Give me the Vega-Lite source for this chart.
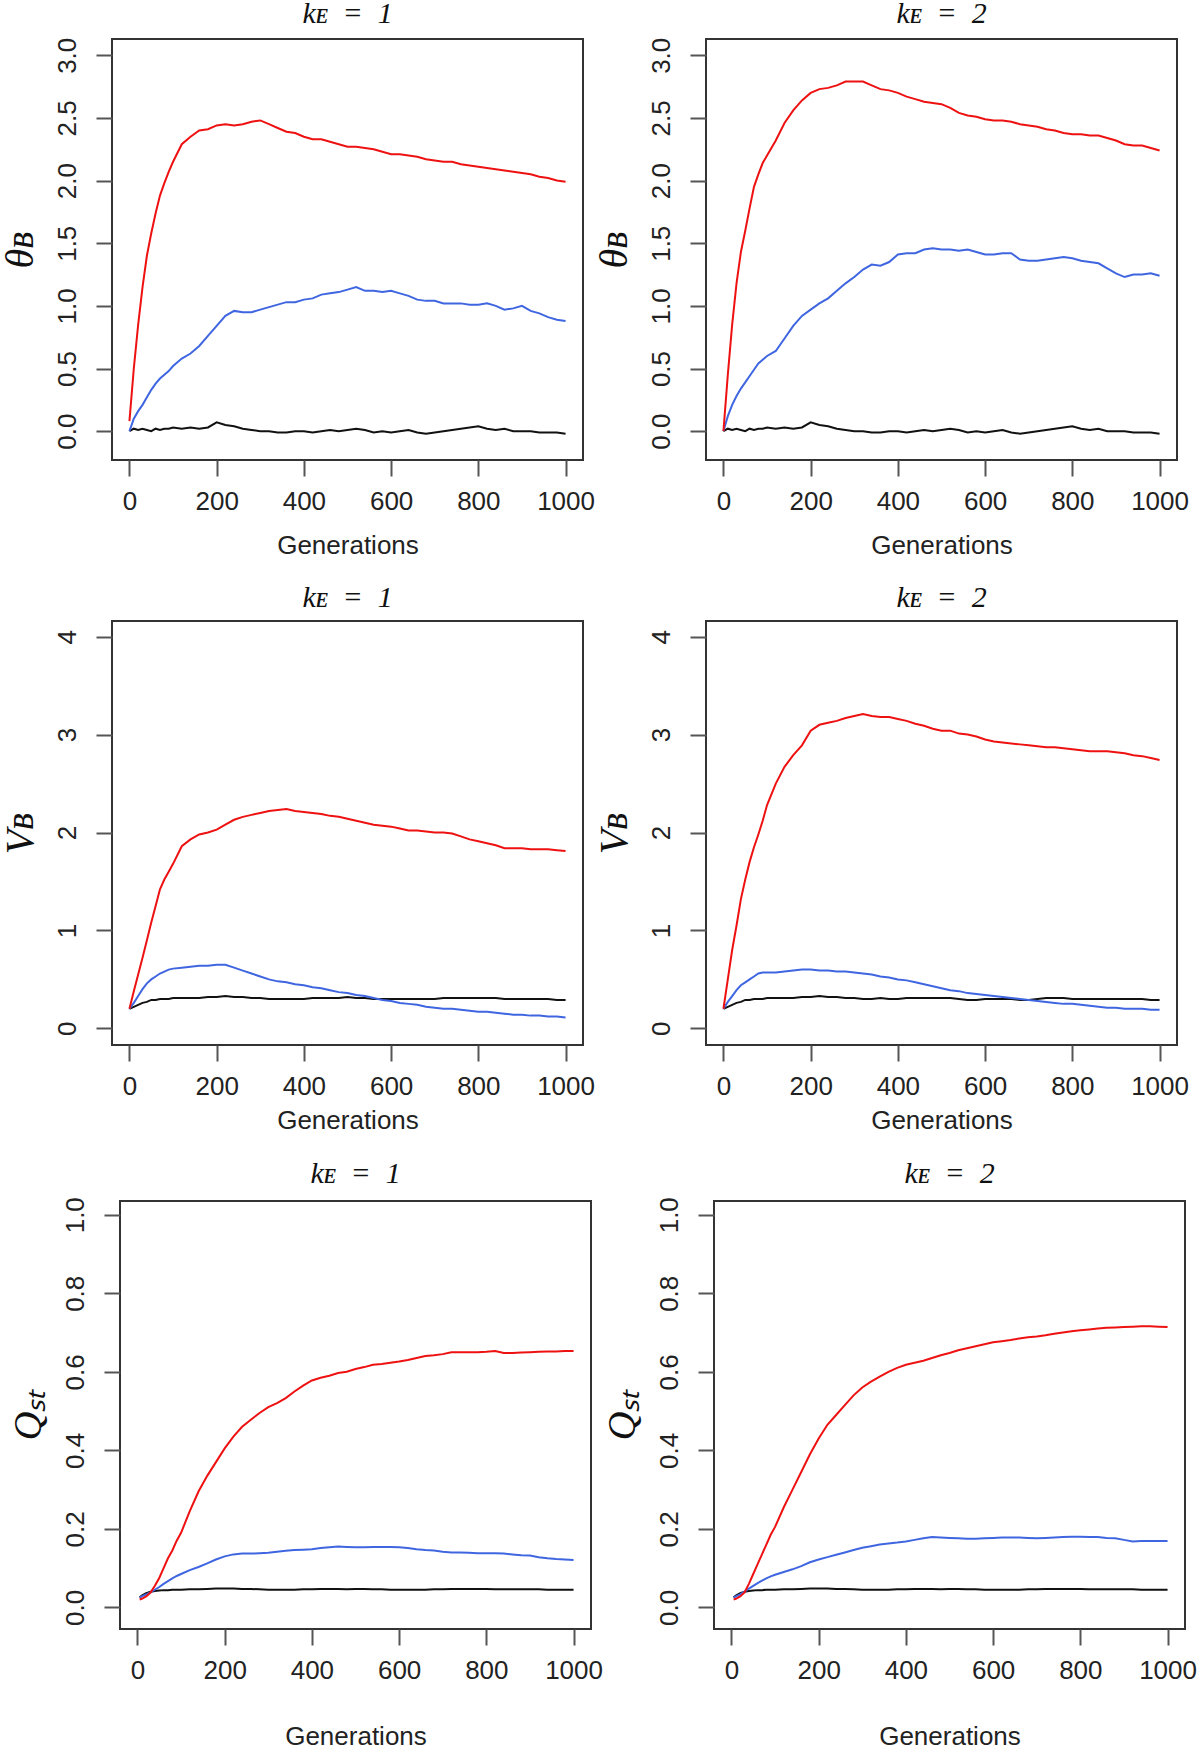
{
  "$schema": "https://vega.github.io/schema/vega-lite/v6.json",
  "autosize": {"type": "none"},
  "padding": {"left": -12, "top": 39, "right": 1212, "bottom": 1713},
  "background": "white",
  "config": {
    "view": {"stroke": "#333333", "strokeWidth": 2},
    "axis": {"grid": false, "domain": false, "tickSize": 16, "tickWidth": 2, "tickColor": "#555555", "labelFont": "Liberation Sans", "labelFontSize": 26, "labelColor": "#222222", "titleColor": "#111111", "titleFontWeight": "normal"},
    "axisX": {"labelPadding": 12, "labelFlush": false, "labelOverlap": false, "titleFont": "Liberation Sans", "titleFontSize": 26, "titleColor": "#222222"},
    "axisY": {"labelAngle": 270, "labelAlign": "center", "labelBaseline": "alphabetic", "labelPadding": 21, "labelFlush": false, "labelOverlap": false, "titleFont": "Liberation Serif", "titleFontStyle": "italic", "titleFontSize": 40, "titleAngle": 270, "titleBaseline": "alphabetic", "titlePadding": 22},
    "title": {"font": "Liberation Serif", "fontStyle": "italic", "fontSize": 30, "fontWeight": "normal", "color": "#111111", "frame": "group", "baseline": "alphabetic", "offset": 8, "anchor": "middle"},
    "line": {"strokeWidth": 2}
  },
  "datasets": {
    "t1": [
      {"g":0,"r":0.08,"b":0.0,"k":0.0},{"g":10,"r":0.50,"b":0.10,"k":0.02},{"g":20,"r":0.85,"b":0.16,"k":0.01},{"g":30,"r":1.15,"b":0.21,"k":0.02},{"g":40,"r":1.40,"b":0.27,"k":0.01},{"g":50,"r":1.58,"b":0.33,"k":0.0},{"g":60,"r":1.74,"b":0.38,"k":0.02},{"g":70,"r":1.88,"b":0.42,"k":0.01},{"g":80,"r":1.98,"b":0.45,"k":0.02},{"g":90,"r":2.07,"b":0.48,"k":0.02},{"g":100,"r":2.15,"b":0.52,"k":0.03},
      {"g":120,"r":2.29,"b":0.58,"k":0.02},{"g":140,"r":2.35,"b":0.62,"k":0.03},{"g":160,"r":2.40,"b":0.68,"k":0.02},{"g":180,"r":2.41,"b":0.76,"k":0.03},{"g":200,"r":2.44,"b":0.84,"k":0.07},{"g":220,"r":2.45,"b":0.92,"k":0.05},{"g":240,"r":2.44,"b":0.96,"k":0.04},{"g":260,"r":2.45,"b":0.95,"k":0.02},{"g":280,"r":2.47,"b":0.95,"k":0.01},{"g":300,"r":2.48,"b":0.97,"k":0.0},
      {"g":320,"r":2.45,"b":0.99,"k":0.0},{"g":340,"r":2.42,"b":1.01,"k":-0.01},{"g":360,"r":2.39,"b":1.03,"k":-0.01},{"g":380,"r":2.38,"b":1.03,"k":0.0},{"g":400,"r":2.35,"b":1.05,"k":0.0},{"g":420,"r":2.33,"b":1.06,"k":-0.01},{"g":440,"r":2.33,"b":1.09,"k":0.0},{"g":460,"r":2.31,"b":1.10,"k":0.01},{"g":480,"r":2.29,"b":1.11,"k":0.0},{"g":500,"r":2.27,"b":1.13,"k":0.01},
      {"g":520,"r":2.27,"b":1.15,"k":0.02},{"g":540,"r":2.26,"b":1.12,"k":0.01},{"g":560,"r":2.25,"b":1.12,"k":-0.01},{"g":580,"r":2.23,"b":1.11,"k":0.0},{"g":600,"r":2.21,"b":1.12,"k":-0.01},{"g":620,"r":2.21,"b":1.10,"k":0.0},{"g":640,"r":2.20,"b":1.08,"k":0.01},{"g":660,"r":2.19,"b":1.05,"k":-0.01},{"g":680,"r":2.17,"b":1.04,"k":-0.02},{"g":700,"r":2.16,"b":1.04,"k":-0.01},
      {"g":720,"r":2.15,"b":1.02,"k":0.0},{"g":740,"r":2.15,"b":1.02,"k":0.01},{"g":760,"r":2.13,"b":1.02,"k":0.02},{"g":780,"r":2.12,"b":1.01,"k":0.03},{"g":800,"r":2.11,"b":1.01,"k":0.04},{"g":820,"r":2.10,"b":1.02,"k":0.02},{"g":840,"r":2.09,"b":1.00,"k":0.01},{"g":860,"r":2.08,"b":0.97,"k":0.02},{"g":880,"r":2.07,"b":0.98,"k":0.0},{"g":900,"r":2.06,"b":1.00,"k":0.0},
      {"g":920,"r":2.05,"b":0.96,"k":0.0},{"g":940,"r":2.03,"b":0.94,"k":-0.01},{"g":960,"r":2.02,"b":0.91,"k":-0.01},{"g":980,"r":2.00,"b":0.89,"k":-0.01},{"g":1000,"r":1.99,"b":0.88,"k":-0.02}
    ],
    "t2": [
      {"g":0,"r":0.0,"b":0.0,"k":0.0},{"g":10,"r":0.45,"b":0.12,"k":0.02},{"g":20,"r":0.85,"b":0.21,"k":0.01},{"g":30,"r":1.18,"b":0.28,"k":0.02},{"g":40,"r":1.43,"b":0.34,"k":0.01},{"g":50,"r":1.60,"b":0.39,"k":0.0},{"g":60,"r":1.78,"b":0.44,"k":0.02},{"g":70,"r":1.95,"b":0.49,"k":0.01},{"g":80,"r":2.05,"b":0.54,"k":0.02},{"g":90,"r":2.14,"b":0.57,"k":0.02},{"g":100,"r":2.20,"b":0.60,"k":0.03},
      {"g":120,"r":2.32,"b":0.64,"k":0.02},{"g":140,"r":2.46,"b":0.74,"k":0.03},{"g":160,"r":2.56,"b":0.84,"k":0.02},{"g":180,"r":2.64,"b":0.92,"k":0.03},{"g":200,"r":2.70,"b":0.97,"k":0.07},{"g":220,"r":2.73,"b":1.02,"k":0.05},{"g":240,"r":2.74,"b":1.06,"k":0.04},{"g":260,"r":2.76,"b":1.12,"k":0.02},{"g":280,"r":2.79,"b":1.18,"k":0.01},{"g":300,"r":2.79,"b":1.23,"k":0.0},
      {"g":320,"r":2.79,"b":1.29,"k":0.0},{"g":340,"r":2.76,"b":1.33,"k":-0.01},{"g":360,"r":2.73,"b":1.32,"k":-0.01},{"g":380,"r":2.72,"b":1.35,"k":0.0},{"g":400,"r":2.70,"b":1.41,"k":0.0},{"g":420,"r":2.67,"b":1.42,"k":-0.01},{"g":440,"r":2.65,"b":1.42,"k":0.0},{"g":460,"r":2.63,"b":1.45,"k":0.01},{"g":480,"r":2.62,"b":1.46,"k":0.0},{"g":500,"r":2.61,"b":1.45,"k":0.01},
      {"g":520,"r":2.58,"b":1.45,"k":0.02},{"g":540,"r":2.54,"b":1.44,"k":0.01},{"g":560,"r":2.52,"b":1.45,"k":-0.01},{"g":580,"r":2.51,"b":1.43,"k":0.0},{"g":600,"r":2.49,"b":1.41,"k":-0.01},{"g":620,"r":2.48,"b":1.41,"k":0.0},{"g":640,"r":2.48,"b":1.42,"k":0.01},{"g":660,"r":2.47,"b":1.42,"k":-0.01},{"g":680,"r":2.45,"b":1.37,"k":-0.02},{"g":700,"r":2.44,"b":1.36,"k":-0.01},
      {"g":720,"r":2.43,"b":1.36,"k":0.0},{"g":740,"r":2.41,"b":1.37,"k":0.01},{"g":760,"r":2.40,"b":1.38,"k":0.02},{"g":780,"r":2.38,"b":1.39,"k":0.03},{"g":800,"r":2.37,"b":1.38,"k":0.04},{"g":820,"r":2.37,"b":1.36,"k":0.02},{"g":840,"r":2.36,"b":1.35,"k":0.01},{"g":860,"r":2.36,"b":1.34,"k":0.02},{"g":880,"r":2.34,"b":1.30,"k":0.0},{"g":900,"r":2.32,"b":1.26,"k":0.0},
      {"g":920,"r":2.29,"b":1.23,"k":0.0},{"g":940,"r":2.28,"b":1.25,"k":-0.01},{"g":960,"r":2.28,"b":1.25,"k":-0.01},{"g":980,"r":2.26,"b":1.26,"k":-0.01},{"g":1000,"r":2.24,"b":1.24,"k":-0.02}
    ],
    "v1": [
      {"g":0,"r":0.20,"b":0.20,"k":0.20},{"g":10,"r":0.38,"b":0.26,"k":0.22},{"g":20,"r":0.55,"b":0.33,"k":0.24},{"g":30,"r":0.72,"b":0.40,"k":0.26},{"g":40,"r":0.90,"b":0.46,"k":0.27},{"g":50,"r":1.08,"b":0.50,"k":0.29},{"g":60,"r":1.25,"b":0.53,"k":0.29},{"g":70,"r":1.42,"b":0.56,"k":0.30},{"g":80,"r":1.52,"b":0.58,"k":0.30},{"g":90,"r":1.60,"b":0.60,"k":0.30},{"g":100,"r":1.68,"b":0.61,"k":0.31},
      {"g":120,"r":1.86,"b":0.62,"k":0.31},{"g":140,"r":1.93,"b":0.63,"k":0.31},{"g":160,"r":1.98,"b":0.64,"k":0.31},{"g":180,"r":2.00,"b":0.64,"k":0.32},{"g":200,"r":2.03,"b":0.65,"k":0.32},{"g":220,"r":2.08,"b":0.65,"k":0.33},{"g":240,"r":2.13,"b":0.62,"k":0.32},{"g":260,"r":2.16,"b":0.59,"k":0.32},{"g":280,"r":2.18,"b":0.56,"k":0.31},{"g":300,"r":2.20,"b":0.53,"k":0.31},
      {"g":320,"r":2.22,"b":0.50,"k":0.30},{"g":340,"r":2.23,"b":0.48,"k":0.30},{"g":360,"r":2.24,"b":0.47,"k":0.30},{"g":380,"r":2.22,"b":0.45,"k":0.30},{"g":400,"r":2.21,"b":0.44,"k":0.30},{"g":420,"r":2.20,"b":0.42,"k":0.31},{"g":440,"r":2.19,"b":0.41,"k":0.31},{"g":460,"r":2.17,"b":0.39,"k":0.31},{"g":480,"r":2.16,"b":0.37,"k":0.31},{"g":500,"r":2.14,"b":0.36,"k":0.32},
      {"g":520,"r":2.12,"b":0.34,"k":0.31},{"g":540,"r":2.10,"b":0.33,"k":0.31},{"g":560,"r":2.08,"b":0.31,"k":0.30},{"g":580,"r":2.07,"b":0.29,"k":0.30},{"g":600,"r":2.06,"b":0.28,"k":0.30},{"g":620,"r":2.04,"b":0.26,"k":0.30},{"g":640,"r":2.02,"b":0.25,"k":0.30},{"g":660,"r":2.02,"b":0.24,"k":0.30},{"g":680,"r":2.01,"b":0.22,"k":0.30},{"g":700,"r":2.00,"b":0.21,"k":0.30},
      {"g":720,"r":2.00,"b":0.20,"k":0.31},{"g":740,"r":1.99,"b":0.20,"k":0.31},{"g":760,"r":1.96,"b":0.19,"k":0.31},{"g":780,"r":1.93,"b":0.18,"k":0.31},{"g":800,"r":1.91,"b":0.17,"k":0.31},{"g":820,"r":1.89,"b":0.17,"k":0.31},{"g":840,"r":1.87,"b":0.16,"k":0.31},{"g":860,"r":1.84,"b":0.15,"k":0.30},{"g":880,"r":1.84,"b":0.14,"k":0.30},{"g":900,"r":1.84,"b":0.14,"k":0.30},
      {"g":920,"r":1.83,"b":0.13,"k":0.30},{"g":940,"r":1.83,"b":0.13,"k":0.30},{"g":960,"r":1.83,"b":0.12,"k":0.30},{"g":980,"r":1.82,"b":0.12,"k":0.29},{"g":1000,"r":1.81,"b":0.11,"k":0.29}
    ],
    "v2": [
      {"g":0,"r":0.20,"b":0.20,"k":0.20},{"g":10,"r":0.50,"b":0.27,"k":0.22},{"g":20,"r":0.80,"b":0.33,"k":0.24},{"g":30,"r":1.05,"b":0.39,"k":0.26},{"g":40,"r":1.32,"b":0.44,"k":0.27},{"g":50,"r":1.52,"b":0.47,"k":0.29},{"g":60,"r":1.70,"b":0.50,"k":0.29},{"g":70,"r":1.85,"b":0.53,"k":0.30},{"g":80,"r":1.98,"b":0.56,"k":0.30},{"g":90,"r":2.12,"b":0.57,"k":0.30},{"g":100,"r":2.28,"b":0.57,"k":0.31},
      {"g":120,"r":2.50,"b":0.57,"k":0.31},{"g":140,"r":2.67,"b":0.58,"k":0.31},{"g":160,"r":2.79,"b":0.59,"k":0.31},{"g":180,"r":2.89,"b":0.60,"k":0.32},{"g":200,"r":3.04,"b":0.60,"k":0.32},{"g":220,"r":3.10,"b":0.59,"k":0.33},{"g":240,"r":3.12,"b":0.59,"k":0.32},{"g":260,"r":3.14,"b":0.58,"k":0.32},{"g":280,"r":3.17,"b":0.58,"k":0.31},{"g":300,"r":3.19,"b":0.57,"k":0.31},
      {"g":320,"r":3.21,"b":0.56,"k":0.30},{"g":340,"r":3.19,"b":0.55,"k":0.30},{"g":360,"r":3.18,"b":0.53,"k":0.31},{"g":380,"r":3.18,"b":0.52,"k":0.30},{"g":400,"r":3.16,"b":0.50,"k":0.30},{"g":420,"r":3.14,"b":0.49,"k":0.31},{"g":440,"r":3.11,"b":0.47,"k":0.31},{"g":460,"r":3.09,"b":0.45,"k":0.31},{"g":480,"r":3.06,"b":0.43,"k":0.31},{"g":500,"r":3.04,"b":0.41,"k":0.31},
      {"g":520,"r":3.04,"b":0.39,"k":0.31},{"g":540,"r":3.01,"b":0.38,"k":0.30},{"g":560,"r":3.00,"b":0.36,"k":0.29},{"g":580,"r":2.98,"b":0.35,"k":0.29},{"g":600,"r":2.95,"b":0.34,"k":0.30},{"g":620,"r":2.93,"b":0.33,"k":0.30},{"g":640,"r":2.92,"b":0.32,"k":0.30},{"g":660,"r":2.91,"b":0.31,"k":0.30},{"g":680,"r":2.90,"b":0.30,"k":0.29},{"g":700,"r":2.89,"b":0.29,"k":0.29},
      {"g":720,"r":2.88,"b":0.28,"k":0.30},{"g":740,"r":2.87,"b":0.27,"k":0.31},{"g":760,"r":2.87,"b":0.26,"k":0.31},{"g":780,"r":2.86,"b":0.25,"k":0.31},{"g":800,"r":2.85,"b":0.25,"k":0.30},{"g":820,"r":2.84,"b":0.24,"k":0.30},{"g":840,"r":2.83,"b":0.23,"k":0.30},{"g":860,"r":2.83,"b":0.22,"k":0.30},{"g":880,"r":2.83,"b":0.21,"k":0.30},{"g":900,"r":2.82,"b":0.21,"k":0.30},
      {"g":920,"r":2.81,"b":0.20,"k":0.30},{"g":940,"r":2.79,"b":0.20,"k":0.30},{"g":960,"r":2.78,"b":0.20,"k":0.30},{"g":980,"r":2.76,"b":0.19,"k":0.29},{"g":1000,"r":2.74,"b":0.19,"k":0.29}
    ],
    "q1": [
      {"g":5,"r":0.020,"b":0.025,"k":0.025},{"g":10,"r":0.022,"b":0.028,"k":0.030},{"g":20,"r":0.028,"b":0.033,"k":0.036},{"g":30,"r":0.038,"b":0.038,"k":0.040},{"g":40,"r":0.055,"b":0.045,"k":0.042},{"g":50,"r":0.075,"b":0.052,"k":0.043},{"g":60,"r":0.100,"b":0.060,"k":0.044},{"g":70,"r":0.125,"b":0.067,"k":0.044},{"g":80,"r":0.145,"b":0.074,"k":0.045},{"g":90,"r":0.170,"b":0.080,"k":0.045},{"g":100,"r":0.190,"b":0.085,"k":0.045},
      {"g":120,"r":0.245,"b":0.095,"k":0.046},{"g":140,"r":0.295,"b":0.103,"k":0.046},{"g":160,"r":0.335,"b":0.112,"k":0.047},{"g":180,"r":0.370,"b":0.122,"k":0.048},{"g":200,"r":0.405,"b":0.130,"k":0.048},{"g":220,"r":0.435,"b":0.135,"k":0.048},{"g":240,"r":0.460,"b":0.137,"k":0.047},{"g":260,"r":0.478,"b":0.137,"k":0.047},{"g":280,"r":0.495,"b":0.138,"k":0.046},{"g":300,"r":0.510,"b":0.139,"k":0.045},
      {"g":320,"r":0.520,"b":0.142,"k":0.045},{"g":340,"r":0.533,"b":0.144,"k":0.045},{"g":360,"r":0.550,"b":0.146,"k":0.045},{"g":380,"r":0.565,"b":0.147,"k":0.046},{"g":400,"r":0.578,"b":0.148,"k":0.046},{"g":420,"r":0.585,"b":0.151,"k":0.047},{"g":440,"r":0.590,"b":0.153,"k":0.047},{"g":460,"r":0.597,"b":0.155,"k":0.047},{"g":480,"r":0.600,"b":0.154,"k":0.046},{"g":500,"r":0.607,"b":0.153,"k":0.047},
      {"g":520,"r":0.612,"b":0.153,"k":0.047},{"g":540,"r":0.618,"b":0.154,"k":0.046},{"g":560,"r":0.620,"b":0.154,"k":0.046},{"g":580,"r":0.623,"b":0.154,"k":0.045},{"g":600,"r":0.626,"b":0.153,"k":0.045},{"g":620,"r":0.630,"b":0.151,"k":0.045},{"g":640,"r":0.635,"b":0.148,"k":0.045},{"g":660,"r":0.640,"b":0.146,"k":0.045},{"g":680,"r":0.642,"b":0.145,"k":0.046},{"g":700,"r":0.645,"b":0.142,"k":0.046},
      {"g":720,"r":0.650,"b":0.140,"k":0.047},{"g":740,"r":0.650,"b":0.140,"k":0.047},{"g":760,"r":0.650,"b":0.139,"k":0.047},{"g":780,"r":0.650,"b":0.138,"k":0.047},{"g":800,"r":0.651,"b":0.138,"k":0.047},{"g":820,"r":0.653,"b":0.138,"k":0.046},{"g":840,"r":0.648,"b":0.137,"k":0.046},{"g":860,"r":0.648,"b":0.135,"k":0.046},{"g":880,"r":0.649,"b":0.133,"k":0.046},{"g":900,"r":0.650,"b":0.132,"k":0.046},
      {"g":920,"r":0.651,"b":0.128,"k":0.046},{"g":940,"r":0.652,"b":0.125,"k":0.045},{"g":960,"r":0.652,"b":0.123,"k":0.045},{"g":980,"r":0.653,"b":0.122,"k":0.045},{"g":1000,"r":0.653,"b":0.121,"k":0.045}
    ],
    "q2": [
      {"g":5,"r":0.020,"b":0.025,"k":0.025},{"g":10,"r":0.022,"b":0.028,"k":0.030},{"g":20,"r":0.028,"b":0.033,"k":0.036},{"g":30,"r":0.038,"b":0.040,"k":0.040},{"g":40,"r":0.060,"b":0.048,"k":0.042},{"g":50,"r":0.085,"b":0.055,"k":0.043},{"g":60,"r":0.110,"b":0.062,"k":0.044},{"g":70,"r":0.135,"b":0.068,"k":0.044},{"g":80,"r":0.160,"b":0.074,"k":0.045},{"g":90,"r":0.185,"b":0.079,"k":0.045},{"g":100,"r":0.205,"b":0.083,"k":0.045},
      {"g":120,"r":0.255,"b":0.090,"k":0.046},{"g":140,"r":0.300,"b":0.097,"k":0.046},{"g":160,"r":0.345,"b":0.105,"k":0.047},{"g":180,"r":0.390,"b":0.115,"k":0.048},{"g":200,"r":0.430,"b":0.122,"k":0.048},{"g":220,"r":0.465,"b":0.128,"k":0.048},{"g":240,"r":0.490,"b":0.134,"k":0.047},{"g":260,"r":0.515,"b":0.140,"k":0.047},{"g":280,"r":0.540,"b":0.146,"k":0.046},{"g":300,"r":0.560,"b":0.152,"k":0.045},
      {"g":320,"r":0.575,"b":0.156,"k":0.045},{"g":340,"r":0.588,"b":0.160,"k":0.045},{"g":360,"r":0.600,"b":0.163,"k":0.045},{"g":380,"r":0.610,"b":0.165,"k":0.046},{"g":400,"r":0.618,"b":0.168,"k":0.046},{"g":420,"r":0.623,"b":0.172,"k":0.047},{"g":440,"r":0.628,"b":0.176,"k":0.047},{"g":460,"r":0.635,"b":0.179,"k":0.047},{"g":480,"r":0.642,"b":0.178,"k":0.046},{"g":500,"r":0.648,"b":0.177,"k":0.047},
      {"g":520,"r":0.655,"b":0.176,"k":0.047},{"g":540,"r":0.660,"b":0.175,"k":0.046},{"g":560,"r":0.665,"b":0.175,"k":0.046},{"g":580,"r":0.670,"b":0.176,"k":0.045},{"g":600,"r":0.675,"b":0.177,"k":0.045},{"g":620,"r":0.678,"b":0.178,"k":0.045},{"g":640,"r":0.681,"b":0.178,"k":0.045},{"g":660,"r":0.685,"b":0.178,"k":0.045},{"g":680,"r":0.688,"b":0.177,"k":0.046},{"g":700,"r":0.690,"b":0.176,"k":0.046},
      {"g":720,"r":0.693,"b":0.177,"k":0.047},{"g":740,"r":0.697,"b":0.178,"k":0.047},{"g":760,"r":0.700,"b":0.179,"k":0.047},{"g":780,"r":0.703,"b":0.180,"k":0.047},{"g":800,"r":0.706,"b":0.180,"k":0.047},{"g":820,"r":0.708,"b":0.179,"k":0.046},{"g":840,"r":0.710,"b":0.179,"k":0.046},{"g":860,"r":0.712,"b":0.177,"k":0.046},{"g":880,"r":0.713,"b":0.176,"k":0.046},{"g":900,"r":0.714,"b":0.172,"k":0.046},
      {"g":920,"r":0.715,"b":0.168,"k":0.046},{"g":940,"r":0.716,"b":0.169,"k":0.045},{"g":960,"r":0.716,"b":0.169,"k":0.045},{"g":980,"r":0.715,"b":0.169,"k":0.045},{"g":1000,"r":0.714,"b":0.169,"k":0.045}
    ]
  },
  "spacing": 23,
  "vconcat": [
    {
      "spacing": 123,
      "bounds": "flush",
      "hconcat": [
        {"width": 1, "height": 421, "data": {"values": []}, "mark": {"type": "point", "opacity": 0}, "view": {"stroke": null}},
        {
          "width": 471, "height": 421,
          "data": {"name": "t1"},
          "transform": [{"fold": ["k", "b", "r"], "as": ["s", "v"]}],
          "title": {"text": "kᴇ\u2002=\u20021"},
          "mark": {"type": "line", "strokeWidth": 2},
          "encoding": {
            "x": {"field": "g", "type": "quantitative", "scale": {"domain": [-40, 1040], "nice": false, "zero": false}, "axis": {"title": "Generations", "titlePadding": 18, "values": [0, 200, 400, 600, 800, 1000], "format": "d"}},
            "y": {"field": "v", "type": "quantitative", "scale": {"domain": [-0.23, 3.13], "nice": false, "zero": false}, "axis": {"title": "θʙ", "values": [0, 0.5, 1, 1.5, 2, 2.5, 3], "format": ".1f"}},
            "color": {"field": "s", "type": "nominal", "scale": {"domain": ["k", "b", "r"], "range": ["#111111", "#3F66E0", "#EE1111"]}, "legend": null}
          }
        },
        {
          "width": 471, "height": 421,
          "data": {"name": "t2"},
          "transform": [{"fold": ["k", "b", "r"], "as": ["s", "v"]}],
          "title": {"text": "kᴇ\u2002=\u20022"},
          "mark": {"type": "line", "strokeWidth": 2},
          "encoding": {
            "x": {"field": "g", "type": "quantitative", "scale": {"domain": [-40, 1040], "nice": false, "zero": false}, "axis": {"title": "Generations", "titlePadding": 18, "values": [0, 200, 400, 600, 800, 1000], "format": "d"}},
            "y": {"field": "v", "type": "quantitative", "scale": {"domain": [-0.23, 3.13], "nice": false, "zero": false}, "axis": {"title": "θʙ", "values": [0, 0.5, 1, 1.5, 2, 2.5, 3], "format": ".1f"}},
            "color": {"field": "s", "type": "nominal", "scale": {"domain": ["k", "b", "r"], "range": ["#111111", "#3F66E0", "#EE1111"]}, "legend": null}
          }
        }
      ]
    },
    {
      "spacing": 123,
      "bounds": "flush",
      "hconcat": [
        {"width": 1, "height": 424, "data": {"values": []}, "mark": {"type": "point", "opacity": 0}, "view": {"stroke": null}},
        {
          "width": 471, "height": 424,
          "data": {"name": "v1"},
          "transform": [{"fold": ["k", "b", "r"], "as": ["s", "v"]}],
          "title": {"text": "kᴇ\u2002=\u20021"},
          "mark": {"type": "line", "strokeWidth": 2},
          "encoding": {
            "x": {"field": "g", "type": "quantitative", "scale": {"domain": [-40, 1040], "nice": false, "zero": false}, "axis": {"title": "Generations", "titlePadding": 8, "values": [0, 200, 400, 600, 800, 1000], "format": "d"}},
            "y": {"field": "v", "type": "quantitative", "scale": {"domain": [-0.17, 4.16], "nice": false, "zero": false}, "axis": {"title": "Vʙ", "values": [0, 1, 2, 3, 4], "format": "d"}},
            "color": {"field": "s", "type": "nominal", "scale": {"domain": ["k", "b", "r"], "range": ["#111111", "#3F66E0", "#EE1111"]}, "legend": null}
          }
        },
        {
          "width": 471, "height": 424,
          "data": {"name": "v2"},
          "transform": [{"fold": ["k", "b", "r"], "as": ["s", "v"]}],
          "title": {"text": "kᴇ\u2002=\u20022"},
          "mark": {"type": "line", "strokeWidth": 2},
          "encoding": {
            "x": {"field": "g", "type": "quantitative", "scale": {"domain": [-40, 1040], "nice": false, "zero": false}, "axis": {"title": "Generations", "titlePadding": 8, "values": [0, 200, 400, 600, 800, 1000], "format": "d"}},
            "y": {"field": "v", "type": "quantitative", "scale": {"domain": [-0.17, 4.16], "nice": false, "zero": false}, "axis": {"title": "Vʙ", "values": [0, 1, 2, 3, 4], "format": "d"}},
            "color": {"field": "s", "type": "nominal", "scale": {"domain": ["k", "b", "r"], "range": ["#111111", "#3F66E0", "#EE1111"]}, "legend": null}
          }
        }
      ]
    },
    {
      "spacing": 123,
      "bounds": "flush",
      "hconcat": [
        {"width": 9, "height": 428, "data": {"values": []}, "mark": {"type": "point", "opacity": 0}, "view": {"stroke": null}},
        {
          "width": 471, "height": 428,
          "data": {"name": "q1"},
          "transform": [{"fold": ["k", "b", "r"], "as": ["s", "v"]}],
          "title": {"text": "kᴇ\u2002=\u20021"},
          "mark": {"type": "line", "strokeWidth": 2},
          "encoding": {
            "x": {"field": "g", "type": "quantitative", "scale": {"domain": [-40, 1040], "nice": false, "zero": false}, "axis": {"title": "Generations", "titlePadding": 40, "values": [0, 200, 400, 600, 800, 1000], "format": "d"}},
            "y": {"field": "v", "type": "quantitative", "scale": {"domain": [-0.055, 1.035], "nice": false, "zero": false}, "axis": {"title": "Qₛₜ", "values": [0, 0.2, 0.4, 0.6, 0.8, 1], "format": ".1f"}},
            "color": {"field": "s", "type": "nominal", "scale": {"domain": ["k", "b", "r"], "range": ["#111111", "#3F66E0", "#EE1111"]}, "legend": null}
          }
        },
        {
          "width": 471, "height": 428,
          "data": {"name": "q2"},
          "transform": [{"fold": ["k", "b", "r"], "as": ["s", "v"]}],
          "title": {"text": "kᴇ\u2002=\u20022"},
          "mark": {"type": "line", "strokeWidth": 2},
          "encoding": {
            "x": {"field": "g", "type": "quantitative", "scale": {"domain": [-40, 1040], "nice": false, "zero": false}, "axis": {"title": "Generations", "titlePadding": 40, "values": [0, 200, 400, 600, 800, 1000], "format": "d"}},
            "y": {"field": "v", "type": "quantitative", "scale": {"domain": [-0.055, 1.035], "nice": false, "zero": false}, "axis": {"title": "Qₛₜ", "values": [0, 0.2, 0.4, 0.6, 0.8, 1], "format": ".1f"}},
            "color": {"field": "s", "type": "nominal", "scale": {"domain": ["k", "b", "r"], "range": ["#111111", "#3F66E0", "#EE1111"]}, "legend": null}
          }
        }
      ]
    }
  ]
}
